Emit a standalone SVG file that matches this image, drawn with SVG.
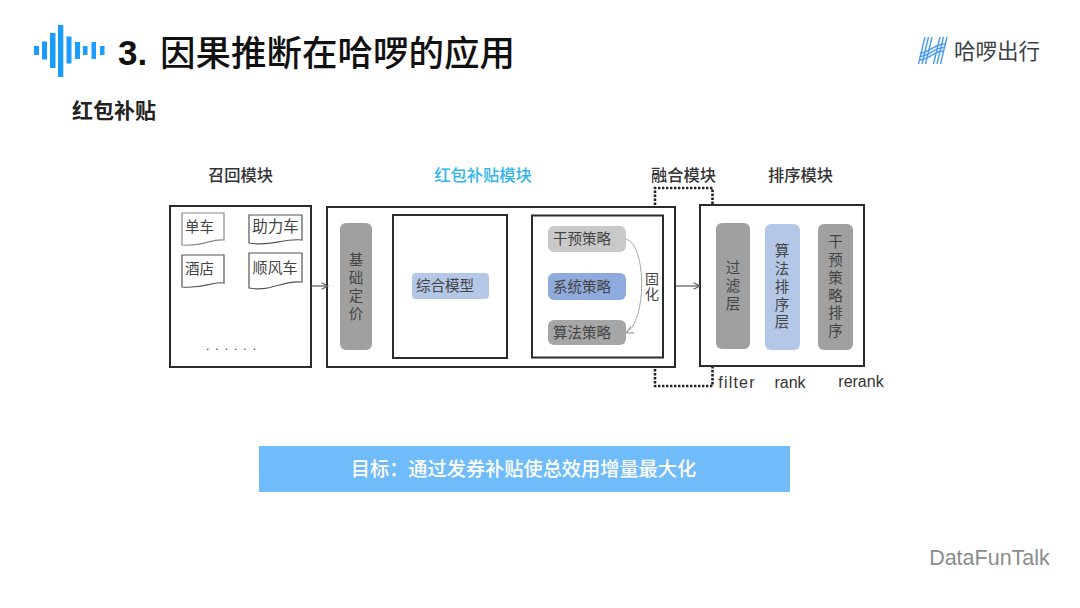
<svg xmlns="http://www.w3.org/2000/svg" width="1080" height="608" viewBox="0 0 1080 608">
<style>
text{font-family:"Liberation Sans","Noto Sans CJK SC",sans-serif}
.cjk{font-family:"Noto Sans CJK SC",sans-serif}
.h{font-size:16.3px;fill:#333;text-anchor:middle;font-weight:500}
.box{fill:#fff;stroke:#2b2b2b;stroke-width:2}
.doc{fill:#fff;stroke:#555;stroke-width:1.2}
.t{font-size:14.5px;fill:#444;text-anchor:middle}
.v{font-size:14.5px;fill:#444;writing-mode:vertical-rl;letter-spacing:3.300px}
.c{fill:none;stroke:#555;stroke-width:1.2}
.dot{fill:none;stroke:#222;stroke-width:2.6;stroke-dasharray:2.4 1.6}
.bar{fill:#1a9dff}
</style>
<defs>
<marker id="arr" viewBox="0 0 10 10" refX="9" refY="5" markerWidth="8" markerHeight="8" orient="auto" markerUnits="userSpaceOnUse"><path d="M1 1L9 5L1 9" fill="none" stroke="#555" stroke-width="1.3"/></marker>
<marker id="arr2" viewBox="0 0 10 10" refX="9" refY="5" markerWidth="9" markerHeight="9" orient="auto" markerUnits="userSpaceOnUse"><path d="M1 1L9 5L1 9" fill="none" stroke="#999" stroke-width="1.2"/></marker>
</defs>
<rect width="1080" height="608" fill="#fff"/>
<g id="logo-wave">
<rect class="bar" x="34" y="46" width="5" height="9"/><rect class="bar" x="42" y="41.500" width="5" height="18"/><rect class="bar" x="50" y="33" width="5.500" height="35"/><rect class="bar" x="58" y="25" width="5.300" height="52"/><rect class="bar" x="66.500" y="36.500" width="5" height="27"/><rect class="bar" x="75" y="42" width="5" height="17"/><rect class="bar" x="83" y="46" width="4.500" height="9"/><rect class="bar" x="91.500" y="42" width="4.500" height="17"/><rect class="bar" x="100" y="46" width="4.500" height="9"/>
</g>
<text id="title" y="65" fill="#111"><tspan x="118" font-size="35" font-weight="700">3.</tspan><tspan class="cjk" x="160" y="66" font-size="35.500" font-weight="500">因果推断在哈啰的应用</tspan></text>
<text id="subtitle" class="cjk" x="72" y="117.500" font-size="21" font-weight="700" fill="#222">红包补贴</text>
<g id="brand">
<g fill="none" stroke="#4a9bf0" stroke-width="1.400">
<path d="M925 37L918.500 64M928.500 37L922 64M932 37L925.500 64"/>
<path d="M940 37L933.500 64M943.500 37L937 64M947 37L940.500 64"/>
<path d="M920 53C929 53 934 44 945 44M919.500 56.500C929 56.500 934 47.500 944 47.500M919 60C929 60 934 51 943 51"/>
</g>
<text class="cjk" x="954" y="59" font-size="21.500" fill="#3c4148">哈啰出行</text>
</g>
<g id="recall">
<text class="h cjk" x="240.500" y="181">召回模块</text>
<rect class="box" x="170" y="206" width="141" height="161"/>
<g id="doc-1"><path class="doc" style="stroke:#888" d="M182 213H224V240C212 238 204 247 182 245Z"/><text class="t cjk" x="199.500" y="232">单车</text></g>
<g id="doc-2"><path class="doc" d="M249 215H302V240C282 238 272 247 249 243Z"/><text class="t cjk" x="275.500" y="232" style="font-size:15.500px">助力车</text></g>
<g id="doc-3"><path class="doc" d="M182 255H224V283C212 281 204 289 182 287Z"/><text class="t cjk" x="199.500" y="274">酒店</text></g>
<g id="doc-4"><path class="doc" d="M249 253H302V282C282 280 272 292 249 288Z"/><text class="t cjk" x="275" y="273" style="font-size:15px">顺风车</text></g>
<text x="234" y="350" font-size="12" fill="#333" text-anchor="middle" letter-spacing="6">......</text>
</g>
<g id="subsidy">
<text class="h cjk" x="483" y="181" style="fill:#2fb5ea">红包补贴模块</text>
<rect class="box" x="327" y="207" width="348" height="160"/>
<g id="base-price"><rect x="340" y="223" width="32" height="127" rx="6" fill="#a0a0a0"/>
<text class="v cjk" x="356" y="252.500">基础定价</text></g>
<rect class="box" x="393" y="215" width="114" height="143"/>
<g id="model"><rect x="412" y="273" width="77" height="26" rx="4" fill="#b4c7e7"/><text class="t cjk" x="445" y="291">综合模型</text></g>
<rect class="box" x="532" y="215.500" width="131" height="142"/>
<g id="s1"><rect x="548" y="226" width="78" height="26" rx="6" fill="#c9c9c9"/><text class="t cjk" x="582" y="244">干预策略</text></g>
<g id="s2"><rect x="548" y="273" width="78" height="27" rx="6" fill="#8faadc"/><text class="t cjk" x="582" y="292">系统策略</text></g>
<g id="s3"><rect x="548" y="320" width="78" height="25" rx="6" fill="#a6a6a6"/><text class="t cjk" x="582" y="338">算法策略</text></g>
<text class="v cjk" x="652" y="271.500" style="font-size:14px;letter-spacing:1.500px">固化</text>
</g>
<g id="fusion"><text class="h cjk" x="683.500" y="181">融合模块</text></g>
<g id="rank">
<text class="h cjk" x="800.500" y="181">排序模块</text>
<rect class="box" x="700" y="205" width="164" height="161"/>
<g id="r1"><rect x="716" y="223" width="34" height="126" rx="6" fill="#a0a0a0"/><text class="v cjk" x="733" y="260.500">过滤层</text></g>
<g id="r2"><rect x="765" y="224" width="35" height="126" rx="6" fill="#b4c7e7"/><text class="v cjk" x="782" y="243.500">算法排序层</text></g>
<g id="r3"><rect x="818" y="224" width="35" height="126" rx="6" fill="#a0a0a0"/><text class="v cjk" x="835.500" y="234.500">干预策略排序</text></g>
<text x="737" y="388" font-size="16" fill="#333" text-anchor="middle" letter-spacing="1.200">filter</text>
<text x="790" y="388" font-size="16" fill="#333" text-anchor="middle">rank</text>
<text x="861" y="387" font-size="16" fill="#333" text-anchor="middle">rerank</text>
</g>
<g id="goal"><rect x="259" y="446" width="531" height="46" fill="#70bbf9"/>
<text class="cjk" x="523.500" y="475.500" font-size="19.200" font-weight="500" fill="#fff" text-anchor="middle">目标：通过发券补贴使总效用增量最大化</text></g>
<text id="watermark" x="989.500" y="565" font-size="21.500" fill="#8c8c8c" text-anchor="middle">DataFunTalk</text>
<g id="connectors">
<path class="c" d="M311 286H328" marker-end="url(#arr)"/>
<path class="c" d="M676 286H700" marker-end="url(#arr)"/>
<path d="M625.500 239C647 243 647 322 626 333" fill="none" stroke="#aaa" stroke-width="1" marker-end="url(#arr2)"/>
<path class="dot" d="M655 205V188H712.500V204"/>
<path class="dot" d="M655 369V386H712.500V367"/>
</g>
</svg>
